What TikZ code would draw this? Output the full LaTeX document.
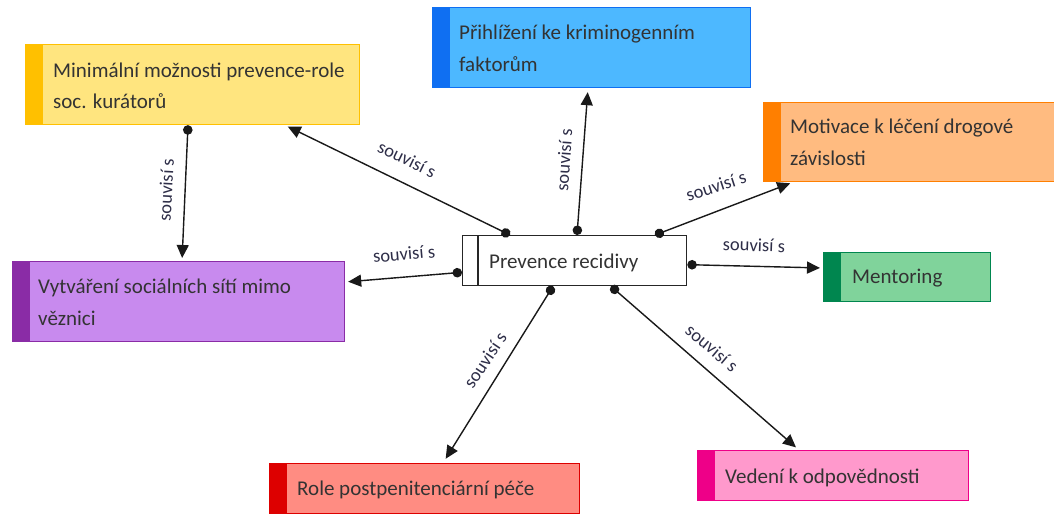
\documentclass[tikz,border=0pt]{standalone}
\usepackage{fontspec}
\setmainfont{Carlito}
\usetikzlibrary{arrows.meta}
\definecolor{yfill}{HTML}{FFE57F}
\definecolor{ystripe}{HTML}{FFC000}
\definecolor{bfill}{HTML}{4DB8FF}
\definecolor{bstripe}{HTML}{0F6FF2}
\definecolor{ofill}{HTML}{FFBB80}
\definecolor{ostripe}{HTML}{FF7F00}
\definecolor{gfill}{HTML}{80D39B}
\definecolor{gstripe}{HTML}{00864F}
\definecolor{pfill}{HTML}{C88AEE}
\definecolor{pstripe}{HTML}{8A2CA6}
\definecolor{rfill}{HTML}{FF8C82}
\definecolor{rstripe}{HTML}{DD0000}
\definecolor{kfill}{HTML}{FF99CC}
\definecolor{kstripe}{HTML}{EE0088}
\definecolor{txt}{HTML}{333333}
\definecolor{lbltxt}{HTML}{2E2E48}
\tikzset{
  cbox/.style 2 args={draw=#1, fill=#2, line width=1.2pt, rectangle, inner sep=0pt,
    anchor=north west,
    path picture={\fill[#1] (path picture bounding box.north west) rectangle ([xshift=17pt]path picture bounding box.south west);}},
  btext/.style={font=\fontsize{21}{25}\selectfont, text=txt, inner sep=0pt, anchor=base west},
  lbl/.style={font=\fontsize{18.5}{20}\selectfont, text=lbltxt, inner sep=0pt},
  conn/.style={draw=black!90, line width=1.4pt, {Circle[length=9.5pt]}-{Triangle[length=13pt,width=12pt]}, shorten >=3pt}
}
\begin{document}
\begin{tikzpicture}[x=1pt,y=-1pt]
\useasboundingbox (0,0) rectangle (1054,514);
\fill[white] (0,0) rectangle (1054,514);

% boxes
\node[cbox={ystripe}{yfill}, minimum width=334pt, minimum height=80pt] (yb) at (25,44) {};
\node[btext] (y1) at (53,77) {Minimální možnosti prevence-role};
\node[btext] (y2) at (53,108) {soc. kurátorů};

\node[cbox={bstripe}{bfill}, minimum width=318pt, minimum height=80pt] (bb) at (432,7) {};
\node[btext] (b1) at (459,39) {Přihlížení ke kriminogenním};
\node[btext] (b2) at (459,71) {faktorům};

\node[cbox={ostripe}{ofill}, minimum width=300pt, minimum height=79pt] (ob) at (763,102) {};
\node[btext] (o1) at (790,133) {Motivace k léčení drogové};
\node[btext] (o2) at (790,165) {závislosti};

\node[cbox={gstripe}{gfill}, minimum width=167pt, minimum height=49pt] (mb) at (823,252) {};
\node[btext] (m1) at (852,283) {Mentoring};

\node[cbox={pstripe}{pfill}, minimum width=332pt, minimum height=80pt] (pb) at (12,261) {};
\node[btext] (p1) at (38,293) {Vytváření sociálních sítí mimo};
\node[btext] (p2) at (38,325) {věznici};

\node[cbox={rstripe}{rfill}, minimum width=310pt, minimum height=50pt] (rb) at (269,463) {};
\node[btext] (r1) at (297,495) {Role postpenitenciární péče};

\node[cbox={kstripe}{kfill}, minimum width=271pt, minimum height=50pt] (kb) at (697,450) {};
\node[btext] (k1) at (725,483) {Vedení k odpovědnosti};

% center
\node[draw=black!85, fill=white, line width=1.3pt, rectangle, inner sep=0pt, anchor=north west,
      minimum width=224pt, minimum height=50pt] (c) at (462,235) {};
\draw[black!85, line width=1.1pt] ([xshift=16pt]c.north west) -- ([xshift=16pt]c.south west);
\node[btext] (c1) at (489,268) {Prevence recidivy};

% connectors
\draw[conn] ([xshift=48pt]c.north west) -- ([xshift=260pt]yb.south west);
\draw[conn] ([xshift=163pt]yb.south west) -- ([xshift=170pt]pb.north west);
\draw[conn, shorten >=4pt] ([xshift=115pt]c.north west) -- ([xshift=156pt]bb.south west);
\draw[conn] ([xshift=193pt]c.north west) -- ([xshift=30pt]ob.south west);
\draw[conn] ([yshift=14pt]c.south west) -- ([yshift=-21pt]pb.north east);
\draw[conn] ([yshift=-4pt]c.east) -- ([yshift=-16pt]mb.north west);
\draw[conn, shorten >=5pt] ([xshift=91pt]c.south west) -- ([xshift=174pt]rb.north west);
\draw[conn, shorten >=4pt] ([xshift=149pt]c.south west) -- ([xshift=102pt]kb.north west);

% labels
\node[lbl, rotate=-26] (l1) at (407,159) {souvisí s};
\node[lbl, rotate=87] (l2) at (166,190) {souvisí s};
\node[lbl, rotate=86] (l3) at (564,160) {souvisí s};
\node[lbl, rotate=18] (l4) at (716,186) {souvisí s};
\node[lbl, rotate=5] (l5) at (404,254) {souvisí s};
\node[lbl, rotate=-2] (l6) at (754,245) {souvisí s};
\node[lbl, rotate=56] (l7) at (485,360) {souvisí s};
\node[lbl, rotate=-40] (l8) at (712,348) {souvisí s};
\end{tikzpicture}
\end{document}
